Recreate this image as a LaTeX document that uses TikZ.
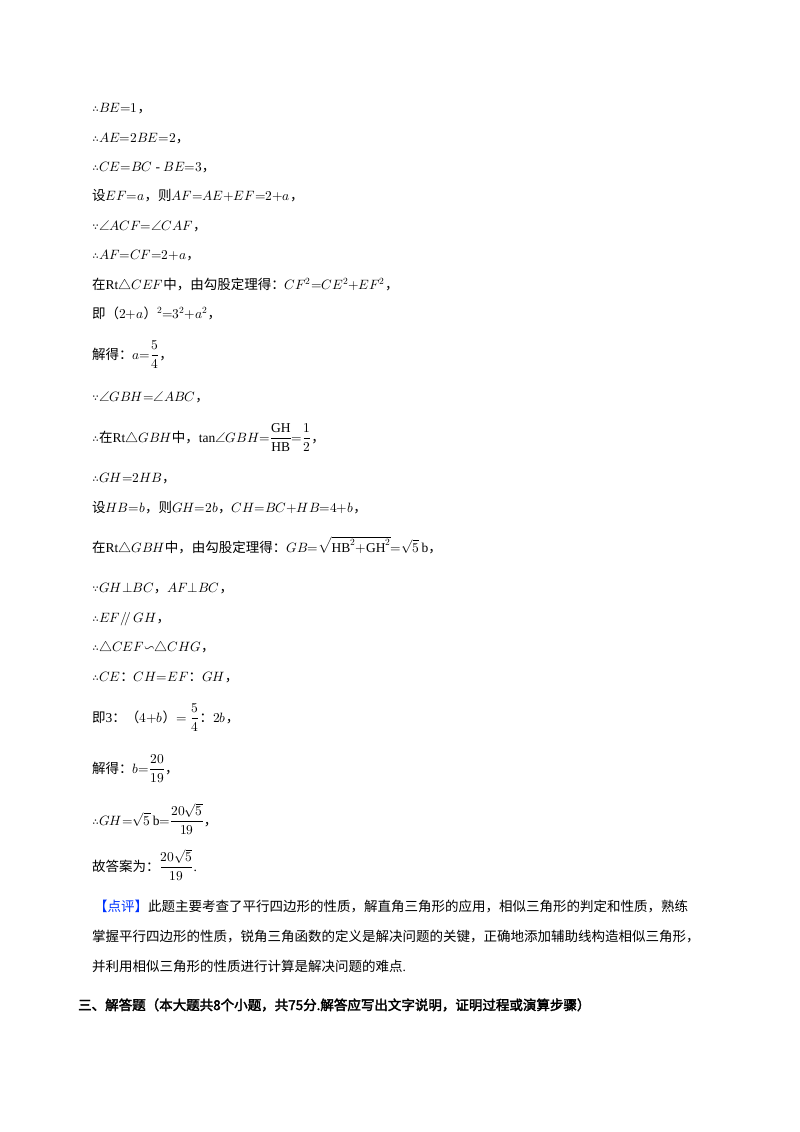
\documentclass[tikz,border=0pt]{standalone}
\usepackage{amsmath}
\usepackage{fontspec}
\usepackage{unicode-math}
\setmainfont{Liberation Serif}
\setmathfont{Latin Modern Math}
\newfontfamily\cjk{Noto Sans CJK SC}[AutoFakeBold=2.5]
\newcommand{\zh}[1]{{\cjk #1}}
\newcommand{\ther}{$\therefore$}
\newcommand{\becs}{$\because$}
\begin{document}
\begin{tikzpicture}[x=1pt,y=-1pt,
  ln/.style={anchor=base west,inner sep=0pt,font=\fontsize{13.5}{16}\selectfont}
                   ]
\useasboundingbox (0,0) rectangle (800,1132);

    \node[ln](l1) at (92,112) {\ther$BE{=}1$\zh{，}};
    \node[ln](l2) at (92,142) {\ther$AE{=}2BE{=}2$\zh{，}};
    \node[ln](l3) at (92,171) {\ther$CE{=}BC$ - $BE{=}3$\zh{，}};
    \node[ln](l4) at (92,200) {\zh{设}$EF{=}a$\zh{，则}$AF{=}AE{+}EF{=}2{+}a$\zh{，}};
    \node[ln](l5) at (92,230) {\becs$\angle ACF{=}\angle CAF$\zh{，}};
    \node[ln](l6) at (92,259) {\ther$AF{=}CF{=}2{+}a$\zh{，}};
    \node[ln](l7) at (92,289) {\zh{在}Rt$\triangle CEF$\zh{中，由勾股定理得：}$CF^2{=}CE^2{+}EF^2$\zh{，}};
    \node[ln](l8) at (92,318) {\zh{即（}$2{+}a$\zh{）}$^2{=}3^2{+}a^2$\zh{，}};
    \node[ln](l9) at (92,359) {\zh{解得：}$a{=}\dfrac{5}{4}$\zh{，}};
    \node[ln](l10) at (92,401) {\becs$\angle GBH{=}\angle ABC$\zh{，}};
    \node[ln](l11) at (92,442) {\ther\zh{在}Rt$\triangle GBH$\zh{中，}tan$\angle GBH{=}\dfrac{\mathrm{GH}}{\mathrm{HB}}{=}\dfrac{1}{2}$\zh{，}};
    \node[ln](l12) at (92,482) {\ther$GH{=}2HB$\zh{，}};
    \node[ln](l13) at (92,512) {\zh{设}$HB{=}b$\zh{，则}$GH{=}2b$\zh{，}$CH{=}BC{+}HB{=}4{+}b$\zh{，}};
    \node[ln](l14) at (92,552) {\zh{在}Rt$\triangle GBH$\zh{中，由勾股定理得：}$GB{=}\sqrt{\mathrm{HB}^2{+}\mathrm{GH}^2}{=}\sqrt{5}\,\mathrm{b}$\zh{，}};
    \node[ln](l15) at (92,592) {\becs$GH{\perp}BC$\zh{，}$AF{\perp}BC$\zh{，}};
    \node[ln](l16) at (92,622) {\ther$EF/\!/\,GH$\zh{，}};
    \node[ln](l17) at (92,651) {\ther$\triangle CEF{\backsim}\triangle CHG$\zh{，}};
    \node[ln](l18) at (92,681) {\ther$CE$\zh{：}$CH{=}EF$\zh{：}$GH$\zh{，}};
    \node[ln](l19) at (92,722) {\zh{即}3\zh{：（}$4{+}b$\zh{）}$=\dfrac{5}{4}$\zh{：}$2b$\zh{，}};
    \node[ln](l20) at (92,773) {\zh{解得：}$b{=}\dfrac{20}{19}$\zh{，}};
    \node[ln](l21) at (92,825) {\ther$GH{=}\sqrt{5}\,\mathrm{b}{=}\dfrac{20\sqrt{5}}{19}$\zh{，}};
    \node[ln](l22) at (92,871) {\zh{故答案为：}$\dfrac{20\sqrt{5}}{19}$.};
    \node[ln](l23) at (94,911) {\zh{\textcolor{blue!80!cyan}{【点评】}此题主要考查了平行四边形的性质，解直角三角形的应用，相似三角形的判定和性质，熟练}};
    \node[ln](l24) at (92,941) {\zh{掌握平行四边形的性质，锐角三角函数的定义是解决问题的关键，正确地添加辅助线构造相似三角形，}};
    \node[ln](l25) at (92,971) {\zh{并利用相似三角形的性质进行计算是解决问题的难点}.};
    \node[ln](l26) at (78,1010) {\zh{\bfseries 三、解答题（本大题共8个小题，共75分.解答应写出文字说明，证明过程或演算步骤）}};

\end{tikzpicture}
\end{document}
